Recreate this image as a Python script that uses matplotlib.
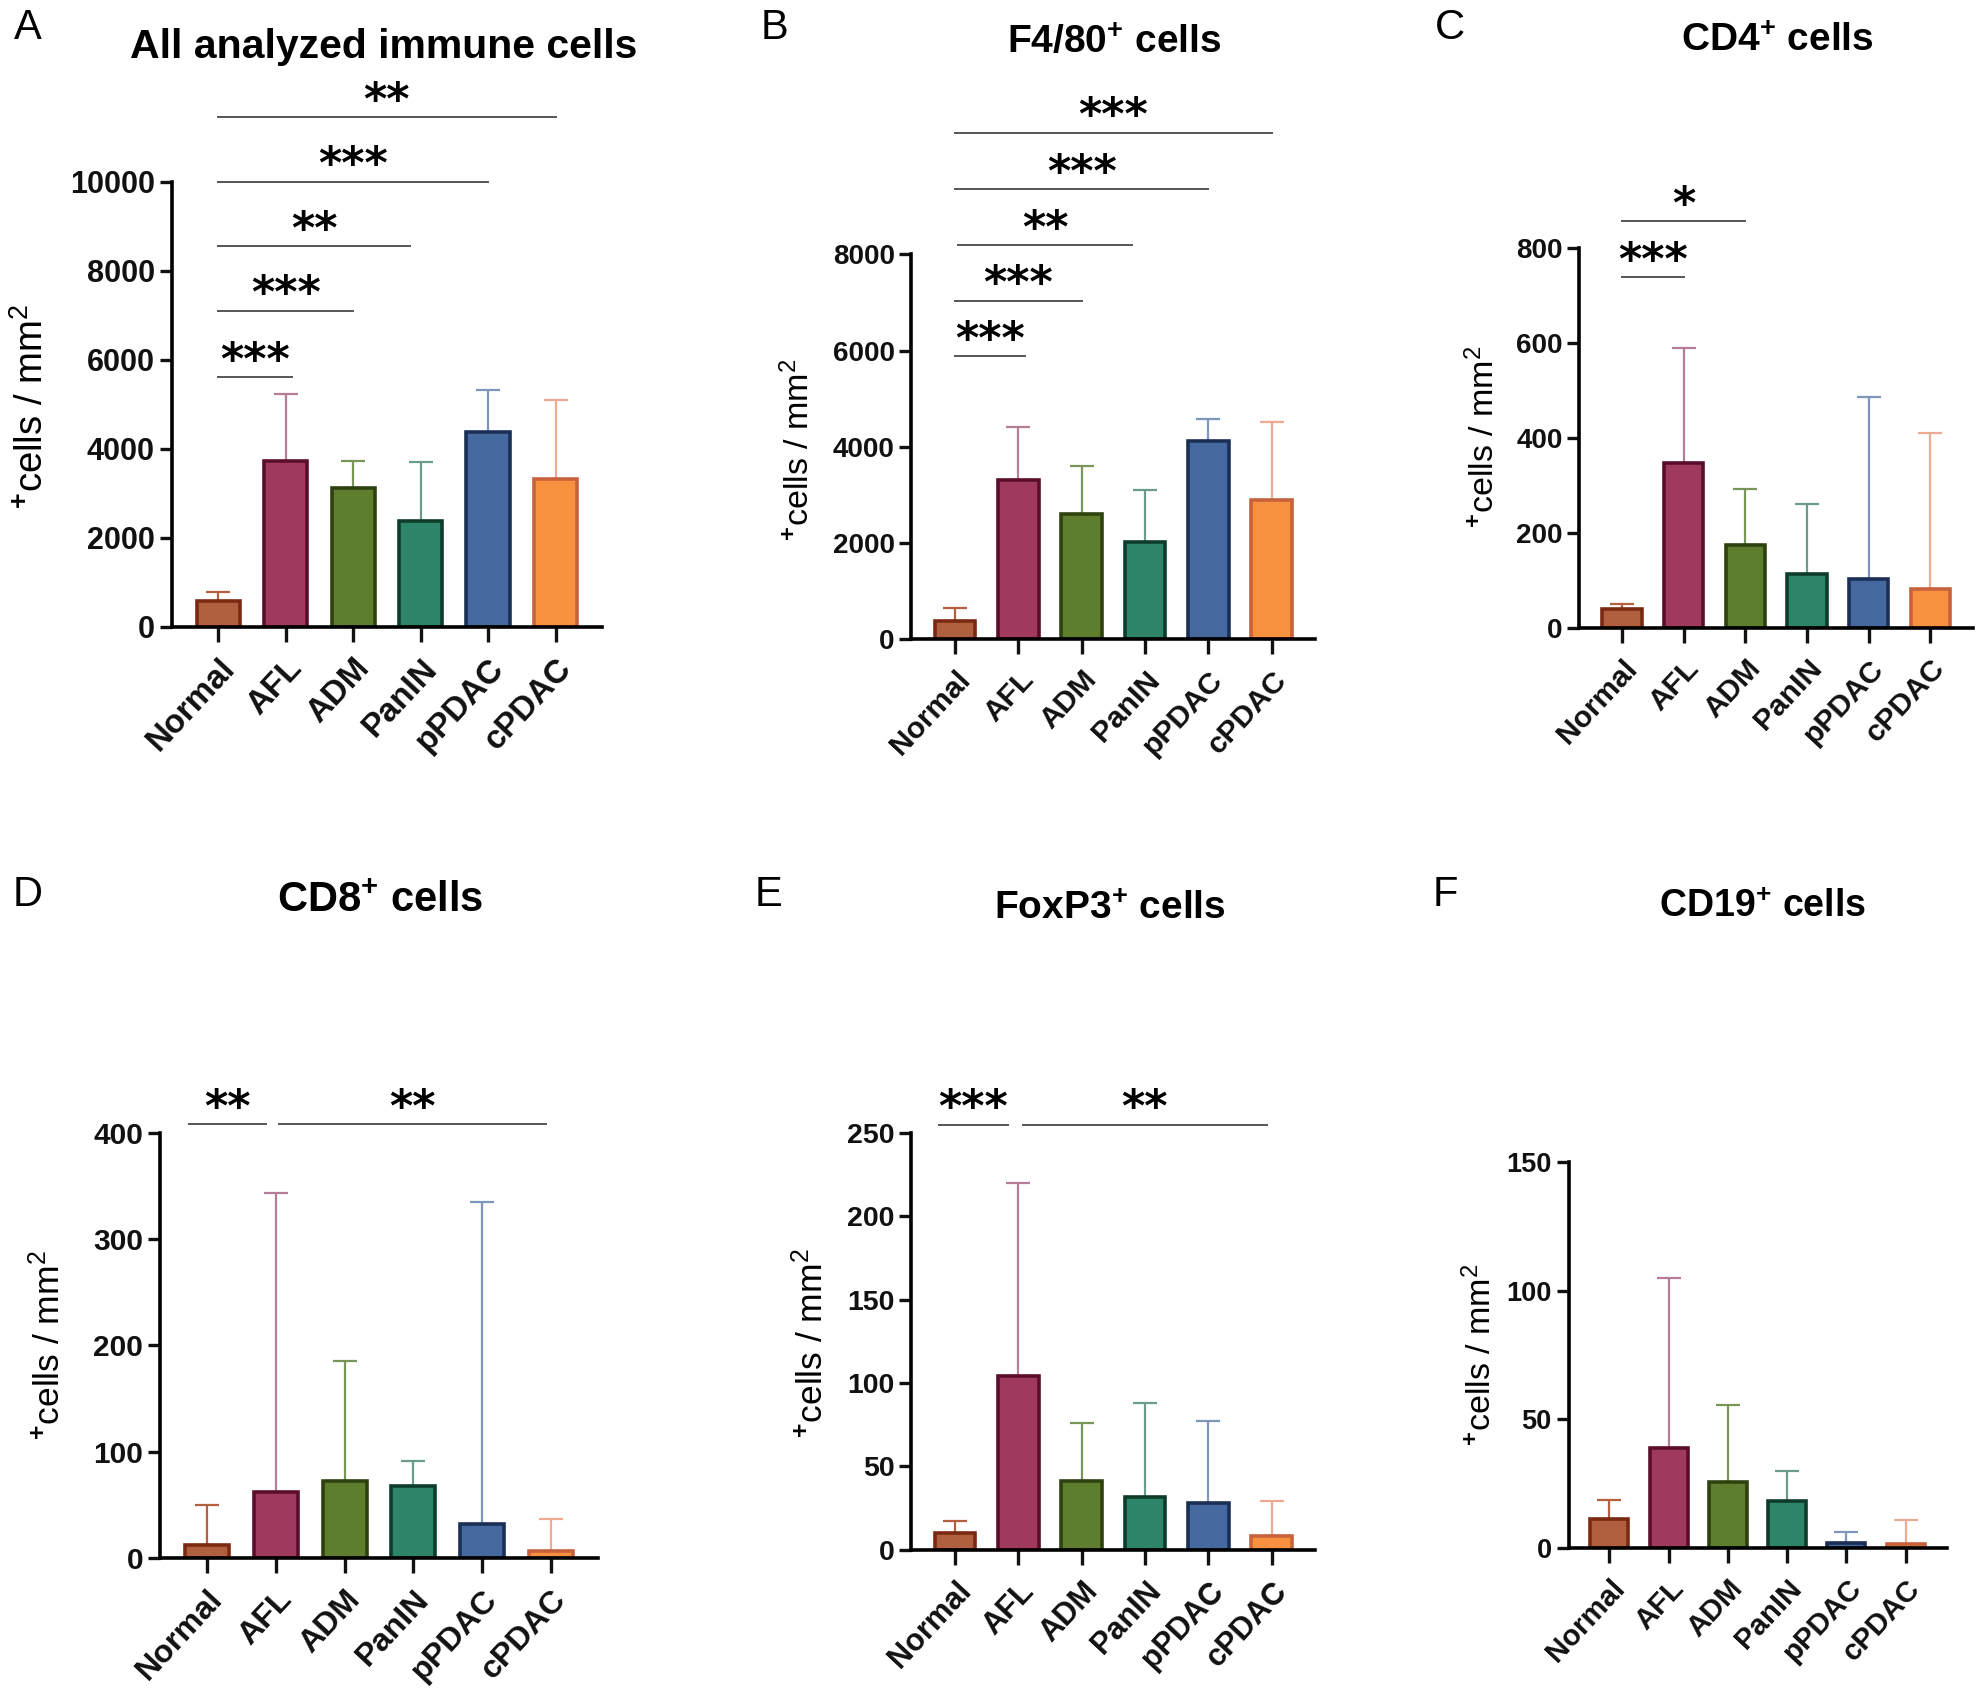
import matplotlib
matplotlib.use('Agg')
import matplotlib.pyplot as plt
import matplotlib.transforms as mtransforms
import numpy as np

plt.rcParams['font.family'] = ['Liberation Sans', 'DejaVu Sans']
plt.rcParams['mathtext.fontset'] = 'custom'
plt.rcParams['mathtext.rm'] = 'Liberation Sans'
plt.rcParams['mathtext.bf'] = 'Liberation Sans:bold'
plt.rcParams['mathtext.it'] = 'Liberation Sans:italic'

groups = ['Normal', 'AFL', 'ADM', 'PanIN', 'pPDAC', 'cPDAC']

# bar heights (mean) and top of the error bar for each panel
all_mean = [570, 3710, 3120, 2380, 4370, 3310]
all_err = [780, 5230, 3710, 3690, 5310, 5090]
f480_mean = [380, 3300, 2610, 2020, 4110, 2900]
f480_err = [640, 4410, 3610, 3100, 4570, 4520]
cd4_mean = [40, 347, 175, 114, 103, 82]
cd4_err = [51, 590, 292, 260, 487, 410]
cd8_mean = [12, 62, 72, 68, 32, 7]
cd8_err = [50, 343, 185, 91, 335, 37]
foxp3_mean = [10, 104, 41, 31.5, 28, 8]
foxp3_err = [17, 220, 76, 88, 77, 29]
cd19_mean = [11.3, 39, 25.7, 18.2, 2.1, 1.7]
cd19_err = [18.8, 105, 55.4, 30, 6.3, 11]

# significance lines: (x start, x end, y, stars)
all_sig = [(0, 1.1, 5600, '***'), (0, 2.0, 7100, '***'), (0, 2.85, 8550, '**'),
           (0, 4.0, 10000, '***'), (0, 5.0, 11450, '**')]
f480_sig = [(0, 1.1, 5880, '***'), (0, 2.0, 7040, '***'), (0.05, 2.8, 8190, '**'),
            (0, 4.0, 9350, '***'), (0, 5.0, 10530, '***')]
cd4_sig = [(0, 1.0, 738, '***'), (0, 2.0, 856, '*')]
cd8_sig = [(-0.27, 0.85, 408, '**'), (1.04, 4.94, 408, '**')]
foxp3_sig = [(-0.26, 0.84, 255, '***'), (1.065, 4.92, 255, '**')]
cd19_sig = []

fill_colors = ['#B0603F', '#9F3A5E', '#5F7E2D', '#2E8468', '#45689F', '#F8913F']
edge_colors = ['#7A2A12', '#5A0E2C', '#2E4210', '#0E3C2A', '#1B2F56', '#C8623C']
err_colors = ['#B4603F', '#B57D97', '#7A955A', '#6A9C88', '#7E96BC', '#EFAA92']

W, H = 1568.0, 1340.0


def rect(x0, ybot, x1, ytop):
    return [x0 / W, 1 - ybot / H, (x1 - x0) / W, (ybot - ytop) / H]


ylab = r'$^{\mathbf{+}}$cells / mm$^{2}$'

# letter, title, data, sig, ymax, ystep, axes rect, letter pos, title pos, title size,
# tick size, ylabel pos, ylabel size
panels = [
    ('A', 'All analyzed immune cells', all_mean, all_err, all_sig, 10000, 2000,
     rect(135.6, 495, 475.6, 143.5), (22, 22), (303, 37), 29.5, 22, (25, 321), 27.5),
    ('B', r'F4/80$^{\mathbf{+}}$ cells', f480_mean, f480_err, f480_sig, 8000, 2000,
     rect(720, 505, 1039, 201), (612, 22), (880, 34), 28, 20, (631, 355), 24.5),
    ('C', r'CD4$^{\mathbf{+}}$ cells', cd4_mean, cd4_err, cd4_sig, 800, 200,
     rect(1247.5, 496, 1558.5, 196), (1145, 22), (1404, 32), 28, 20, (1172, 345), 24.5),
    ('D', r'CD8$^{\mathbf{+}}$ cells', cd8_mean, cd8_err, cd8_sig, 400, 100,
     rect(126.3, 1231, 472.3, 895), (22, 707), (300, 712), 30, 21.5, (38, 1063), 25.5),
    ('E', r'FoxP3$^{\mathbf{+}}$ cells', foxp3_mean, foxp3_err, foxp3_sig, 250, 50,
     rect(720, 1224.5, 1039, 895.3), (607, 707), (877, 718), 28, 20.5, (641, 1061), 25.5),
    ('F', r'CD19$^{\mathbf{+}}$ cells', cd19_mean, cd19_err, cd19_sig, 150, 50,
     rect(1239, 1223, 1537.6, 918), (1142, 707), (1392, 717), 27, 19.5, (1170, 1070), 24.5),
]

fig = plt.figure(figsize=(19.85, 16.96), dpi=100)
shift = mtransforms.ScaledTranslation(-5 / 72, -2 / 72, fig.dpi_scale_trans)

for (letter, title, mean, err, sig, ymax, ystep, pos, lpos, tpos, tsize,
     ticksize, ylpos, ylsize) in panels:
    ax = fig.add_axes(pos)
    x = np.arange(len(groups))
    mean = np.array(mean, dtype=float)
    err = np.array(err, dtype=float)
    for i in range(len(groups)):
        ax.errorbar(x[i], mean[i], yerr=[[0], [err[i] - mean[i]]], fmt='none',
                    ecolor=err_colors[i], elinewidth=1.6, capsize=8.5, capthick=1.6,
                    zorder=1)
    ax.bar(x, mean, width=0.64, color=fill_colors, edgecolor=edge_colors,
           linewidth=2.6, zorder=2)
    ax.set_xlim(-0.69, 5.69)
    ax.set_ylim(0, ymax)
    ax.set_yticks(np.arange(0, ymax + 1, ystep))
    ax.set_xticks(x)
    ax.set_xticklabels(groups, rotation=47, ha='right', rotation_mode='anchor',
                       fontsize=ticksize * 1.08, fontweight='bold')
    for lab in ax.get_xticklabels():
        lab.set_transform(lab.get_transform() + shift)
    for lab in ax.get_yticklabels():
        lab.set_fontsize(ticksize)
        lab.set_fontweight('bold')
    ax.tick_params(axis='both', width=2.4, length=8.5, direction='out', colors='#111111')
    ax.tick_params(axis='x', length=11, pad=8)
    ax.spines['top'].set_visible(False)
    ax.spines['right'].set_visible(False)
    ax.spines['left'].set_linewidth(2.6)
    ax.spines['bottom'].set_linewidth(2.6)

    for xs, xe, y, stars in sig:
        ax.plot([xs, xe], [y, y], color='#555555', lw=1.4, clip_on=False, zorder=3)
        ax.annotate(stars, xy=((xs + xe) / 2, y), xytext=(0, -4), textcoords='offset points',
                    ha='center', va='bottom', fontsize=32, fontweight='bold',
                    family='DejaVu Sans', annotation_clip=False)

    fig.text(ylpos[0] / W, 1 - ylpos[1] / H, ylab, fontsize=ylsize, rotation=90,
             ha='center', va='center')
    fig.text(lpos[0] / W, 1 - lpos[1] / H, letter, fontsize=30, ha='center', va='center')
    fig.text(tpos[0] / W, 1 - tpos[1] / H, title, fontsize=tsize, fontweight='bold',
             ha='center', va='center')

fig.savefig('out.png', dpi=100)
